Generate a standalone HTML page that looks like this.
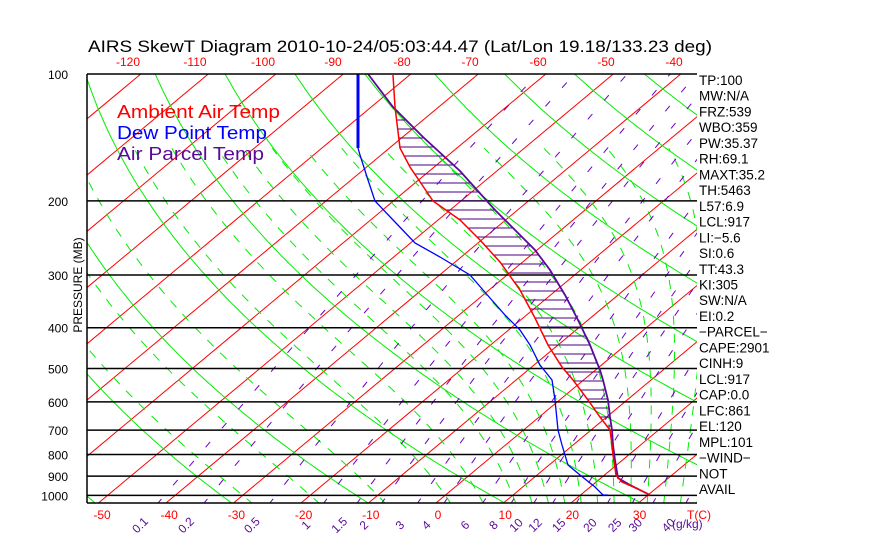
<!DOCTYPE html>
<html><head><meta charset="utf-8"><style>
body{margin:0;background:#fff;width:870px;height:560px;overflow:hidden}
svg{display:block}
text{font-family:"Liberation Sans",sans-serif}
</style></head><body>
<svg id="s" width="870" height="560" xmlns="http://www.w3.org/2000/svg">
<defs><clipPath id="c"><rect x="87" y="74" width="610" height="429"/></clipPath></defs>
<g id="grid" clip-path="url(#c)"></g>
<g id="prof"></g>
<g id="txt"></g>
</svg>
<script>
var NS="http://www.w3.org/2000/svg";
function Y(p){return 74+183*Math.log(p/100);}
function X(T,p){return 436+6.75*T+1.2*(503-Y(p));}
function el(par,tag,at,txt){var e=document.createElementNS(NS,tag);for(var k in at)e.setAttribute(k,at[k]);if(txt!==undefined)e.textContent=txt;document.getElementById(par).appendChild(e);return e;}
function pl(par,pts,at){at.points=pts.map(function(q){return q[0].toFixed(1)+","+q[1].toFixed(1)}).join(" ");at.fill="none";el(par,"polyline",at);}
for(var T=-160;T<=50;T+=10){pl("grid",[[X(T,1050),Y(1050)],[X(T,100),Y(100)]],{stroke:"#ff0000","stroke-width":1});}
for(var th=200;th<=560;th+=20){var pts=[];for(var p=1050;p>=100;p-=10){pts.push([X(th*Math.pow(p/1000,0.286)-273.15,p),Y(p)]);}pl("grid",pts,{stroke:"#00ee00","stroke-width":1});}
function es(t){return 6.112*Math.exp(17.67*t/(t+243.5));}
function step(tk,p,dp){var tc=tk-273.15,e=es(tc),rs=0.622*e/(p-e);var num=287*tk+2.5e6*rs,den=1005+2.5e6*2.5e6*rs*0.622/(287*tk*tk);return num/den/p*dp;}
var starts=[-30,-20,-10,0,5,10,12.5,15,17.5,20,22.5,25,27.5,30,32.5,35,37.5,40,42.5];
starts.forEach(function(T0){var tt=T0+273.15,pp=1000,pts=[];
 while(pp<1050){tt+=step(tt,pp,5);pp+=5;}
 pts.push([X(tt-273.15,pp),Y(pp)]);
 while(pp>150){tt+=step(tt,pp,-5);pp-=5;pts.push([X(tt-273.15,pp),Y(pp)]);}
 pl("grid",pts,{stroke:"#00ee00","stroke-width":1,"stroke-dasharray":"9,9"});});
var ws=[0.1,0.2,0.5,1,1.5,2,3,4,6,8,10,12,15,20,25,30,40];
function td(w,p){var e=w*p/(622+w),l=Math.log(e/6.112);return 243.5*l/(17.67-l);}
ws.forEach(function(w){var pts=[];for(var p=1050;p>=100;p-=25)pts.push([X(td(w,p),p),Y(p)]);pl("grid",pts,{stroke:"#6a00c8","stroke-width":1,"stroke-dasharray":"7,18"});
 var x=X(td(w,1050),1050)-14;el("txt","text",{x:x,y:528,fill:"#5a0a9a","font-size":"12",transform:"rotate(-45 "+x+" 528)","text-anchor":"middle"},String(w));});
[200,300,400,500,600,700,800,900,1000].forEach(function(p){el("grid","line",{x1:87,x2:697,y1:Y(p),y2:Y(p),stroke:"#000","stroke-width":1.5});el("txt","text",{x:68,y:Y(p)+5,"font-size":"12","text-anchor":"end"},String(p));});
el("txt","text",{x:68,y:79,"font-size":"12","text-anchor":"end"},"100");
el("txt","line",{x1:87,x2:697,y1:74,y2:74,stroke:"#000","stroke-width":1.5});
el("txt","line",{x1:87,x2:697,y1:503,y2:503,stroke:"#000","stroke-width":1.5});
el("txt","line",{x1:87,x2:87,y1:74,y2:503,stroke:"#000","stroke-width":1.5});
var tempP=[[393,75],[395,107],[400,148],[410,167],[433,201],[460,220],[480,240],[500,262],[520,290],[535,318],[548,345],[562,367],[573,380],[588,400],[600,417],[610,430],[612,445],[613,455],[616,475],[622,482],[640,490],[650,495]];
var parP=[[368,74],[393,107],[423,137],[460,171],[495,210],[520,235],[535,250],[550,270],[565,295],[578,320],[590,345],[600,370],[603,380],[608,400],[610,417],[612,430],[613,445],[615,460],[618,478],[630,485],[650,495]];
function xAt(a,y){for(var i=0;i<a.length-1;i++){if(y>=a[i][1]&&y<=a[i+1][1]){var f=(y-a[i][1])/(a[i+1][1]-a[i][1]||1);return a[i][0]+f*(a[i+1][0]-a[i][0]);}}return null;}
for(var y=120;y<=455;y+=9){var a=xAt(tempP,y),b=xAt(parP,y);if(a!==null&&b!==null&&b>a)el("prof","line",{x1:a,x2:b,y1:y,y2:y,stroke:"#4b0082","stroke-width":1});}
pl("prof",[[358,74],[358,148]],{stroke:"#0000ff","stroke-width":3});
pl("prof",[[358,148],[360,155],[368,180],[375,201],[395,222],[415,243],[440,257],[470,275],[490,298],[505,315],[520,330],[530,345],[540,365],[548,375],[552,380],[555,400],[558,430],[562,445],[568,465],[580,475],[595,487],[603,495],[608,495]],{stroke:"#0000ff","stroke-width":1.3});
pl("prof",parP,{stroke:"#5a0a9a","stroke-width":1.8});
pl("prof",tempP,{stroke:"#ff0000","stroke-width":1.5});
el("txt","text",{x:88,y:52,"font-size":"17",textLength:"624",lengthAdjust:"spacingAndGlyphs"},"AIRS SkewT Diagram 2010-10-24/05:03:44.47 (Lat/Lon 19.18/133.23 deg)");
[[-120,128],[-110,195],[-100,263],[-90,333],[-80,402],[-70,470],[-60,538],[-50,606],[-40,674]].forEach(function(q){el("txt","text",{x:q[1],y:66,fill:"#ff0000","font-size":"12","text-anchor":"middle"},String(q[0]));});
[-50,-40,-30,-20,-10,0,10,20,30].forEach(function(t){el("txt","text",{x:436+6.72*t+2,y:519,fill:"#ff0000","font-size":"12","text-anchor":"middle"},String(t));});
el("txt","text",{x:687,y:519,fill:"#ff0000","font-size":"12"},"T(C)");
el("txt","text",{x:672,y:528,fill:"#5a0a9a","font-size":"12"},"(g/kg)");
el("txt","text",{x:117,y:118,fill:"#ff0000","font-size":"18",textLength:"163",lengthAdjust:"spacingAndGlyphs"},"Ambient Air Temp");
el("txt","text",{x:117,y:139,fill:"#0000ff","font-size":"18",textLength:"150",lengthAdjust:"spacingAndGlyphs"},"Dew Point Temp");
el("txt","text",{x:117,y:160,fill:"#5a0a9a","font-size":"18",textLength:"147",lengthAdjust:"spacingAndGlyphs"},"Air Parcel Temp");
el("txt","text",{x:82,y:285,"font-size":"12","text-anchor":"middle",transform:"rotate(-90 82 285)"},"PRESSURE (MB)");
var L=["TP:100","MW:N/A","FRZ:539","WBO:359","PW:35.37","RH:69.1","MAXT:35.2","TH:5463","L57:6.9","LCL:917","LI:\u22125.6","SI:0.6","TT:43.3","KI:305","SW:N/A","EI:0.2","\u2212PARCEL\u2212","CAPE:2901","CINH:9","LCL:917","CAP:0.0","LFC:861","EL:120","MPL:101","\u2212WIND\u2212"," NOT","AVAIL"];
L.forEach(function(s,i){el("txt","text",{x:699,y:85+i*15.73,"font-size":"13.5"},s);});
</script>
</body></html>
